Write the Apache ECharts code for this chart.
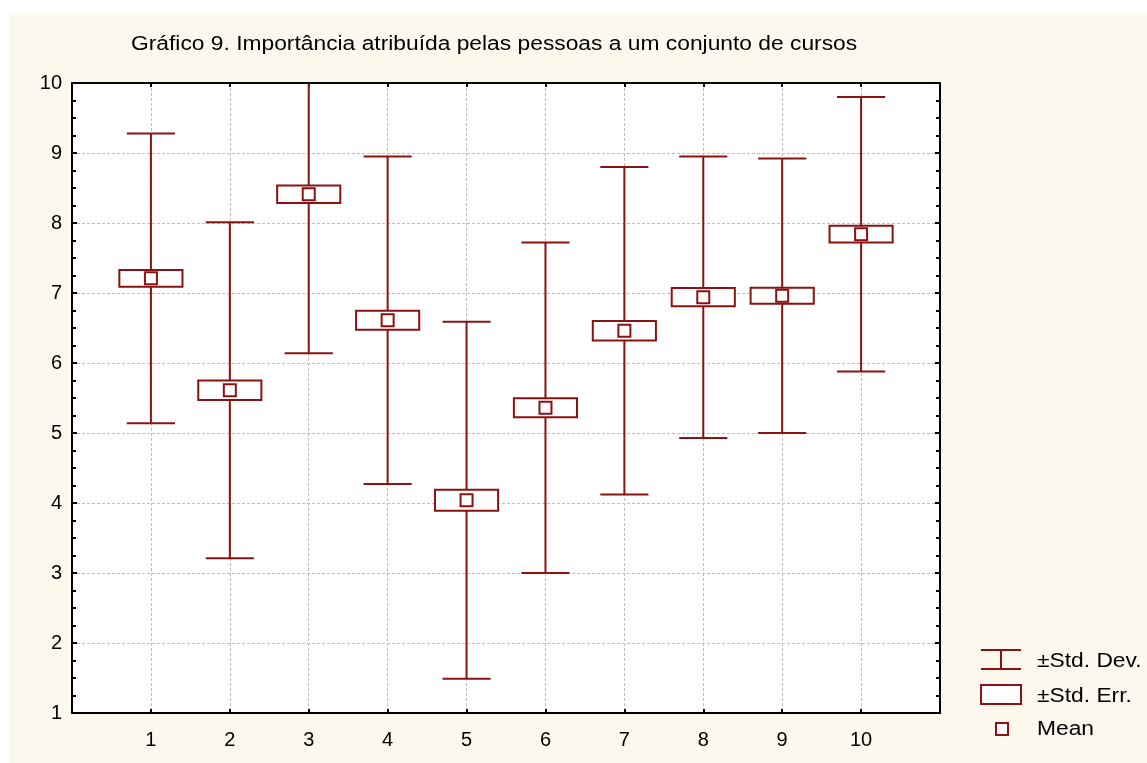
<!DOCTYPE html>
<html>
<head>
<meta charset="utf-8">
<title>Gráfico 9</title>
<script src="https://cdn.jsdelivr.net/npm/echarts@6/dist/echarts.min.js"></script>
<style>
  html, body { margin: 0; padding: 0; background: #ffffff; }
  #chart { position: absolute; left: 9px; top: 13px; width: 1138px; height: 750px; }
</style>
</head>
<body>
<div id="chart"></div>
<script>
// Courses (x positions), mean score, standard error and standard deviation per course
const courses = [1, 2, 3, 4, 5, 6, 7, 8, 9, 10];
const means   = [7.21, 5.61, 8.41, 6.61, 4.04, 5.36, 6.46, 6.94, 6.96, 7.84];
const stdErr  = [0.12, 0.14, 0.125, 0.135, 0.15, 0.135, 0.14, 0.13, 0.115, 0.12];
const stdDev  = [2.07, 2.40, 2.27, 2.34, 2.55, 2.36, 2.34, 2.01, 1.96, 1.96];
const yTicks  = [1, 2, 3, 4, 5, 6, 7, 8, 9, 10];

const title = 'Gráfico 9. Importância atribuída pelas pessoas a um conjunto de cursos';
const legendLabels = ['±Std. Dev.', '±Std. Err.', 'Mean'];

const RED = '#8b1212';
const FONT = 'Liberation Sans, Arial, sans-serif';
const Y_MIN = yTicks[0], Y_MAX = yTicks[yTicks.length - 1];
// slightly wide lettering used for the title and legend text
const WIDE = 1.14;

const data = courses.map((c, i) => [c, means[i], stdErr[i], stdDev[i]]);

function renderItem(params, api) {
  const x = api.value(0), m = api.value(1), se = api.value(2), sd = api.value(3);
  const hiV = m + sd, loV = m - sd;
  const hi = api.coord([x, Math.min(hiV, Y_MAX)]);
  const lo = api.coord([x, Math.max(loV, Y_MIN)]);
  const c = api.coord([x, m]);
  const bTop = api.coord([x, m + se]);
  const bBot = api.coord([x, m - se]);
  const capHalf = api.size([0.305, 0])[0];
  const boxHalf = api.size([0.4, 0])[0];
  const lineStyle = { stroke: RED, lineWidth: 2, fill: null };
  const children = [
    { type: 'line', shape: { x1: hi[0], y1: hi[1], x2: lo[0], y2: lo[1] }, style: lineStyle }
  ];
  if (hiV <= Y_MAX) {
    children.push({ type: 'line', shape: { x1: hi[0] - capHalf, y1: hi[1], x2: hi[0] + capHalf, y2: hi[1] }, style: lineStyle });
  }
  if (loV >= Y_MIN) {
    children.push({ type: 'line', shape: { x1: lo[0] - capHalf, y1: lo[1], x2: lo[0] + capHalf, y2: lo[1] }, style: lineStyle });
  }
  children.push({
    type: 'rect',
    shape: { x: c[0] - boxHalf, y: bTop[1], width: boxHalf * 2, height: bBot[1] - bTop[1] },
    style: { stroke: RED, lineWidth: 2, fill: '#ffffff' }
  });
  children.push({
    type: 'rect',
    shape: { x: c[0] - 6, y: c[1] - 6, width: 12, height: 12 },
    style: { stroke: RED, lineWidth: 2, fill: '#ffffff' }
  });
  return { type: 'group', children: children };
}

const gridLine = { show: true, lineStyle: { color: '#bdbdbd', width: 1, type: [3, 2] } };
const axisLine = { show: true, onZero: false, lineStyle: { color: '#000000', width: 2 } };
const textStyle = { fill: '#000', font: '20px ' + FONT, textVerticalAlign: 'middle' };

const chart = echarts.init(document.getElementById('chart'), null, { renderer: 'canvas' });
chart.setOption({
  backgroundColor: '#fdf8ed',
  animation: false,
  textStyle: { fontFamily: FONT },
  grid: { left: 63, top: 70, right: 207, bottom: 50, show: true, backgroundColor: '#ffffff', borderWidth: 0 },
  xAxis: [
    {
      type: 'value', min: 0, max: 11, interval: 1, position: 'bottom',
      axisLine: axisLine,
      axisTick: { show: true, inside: true, length: 4, lineStyle: { color: '#000', width: 2 } },
      axisLabel: {
        margin: 17, fontSize: 20, color: '#000', fontFamily: FONT,
        formatter: v => (courses.indexOf(v) >= 0 ? String(v) : '')
      },
      splitLine: gridLine
    },
    {
      type: 'value', min: 0, max: 11, interval: 1, position: 'top',
      axisLine: axisLine,
      axisTick: { show: true, inside: true, length: 4, lineStyle: { color: '#000', width: 2 } },
      axisLabel: { show: false },
      splitLine: { show: false }
    }
  ],
  yAxis: [
    {
      type: 'value', min: Y_MIN, max: Y_MAX, interval: 1, position: 'left',
      axisLine: axisLine,
      axisTick: { show: true, inside: true, length: 5, lineStyle: { color: '#000', width: 2 } },
      minorTick: { show: true, splitNumber: 4, length: 4, lineStyle: { color: '#000', width: 2 } },
      axisLabel: { margin: 10, fontSize: 20, color: '#000', fontFamily: FONT },
      splitLine: gridLine
    },
    {
      type: 'value', min: Y_MIN, max: Y_MAX, interval: 1, position: 'right',
      axisLine: axisLine,
      axisTick: { show: true, inside: true, length: 5, lineStyle: { color: '#000', width: 2 } },
      minorTick: { show: true, splitNumber: 4, length: 4, lineStyle: { color: '#000', width: 2 } },
      axisLabel: { show: false },
      splitLine: { show: false }
    }
  ],
  series: [{
    type: 'custom',
    xAxisIndex: 0, yAxisIndex: 0,
    renderItem: renderItem,
    encode: { x: 0, y: 1 },
    data: data,
    z: 10
  }],
  graphic: [
    // chart title
    { type: 'text', x: 122, y: 31, scaleX: WIDE, style: Object.assign({ text: title }, textStyle) },
    // legend: standard deviation whisker
    { type: 'line', shape: { x1: 972, y1: 637, x2: 1012, y2: 637 }, style: { stroke: RED, lineWidth: 2 } },
    { type: 'line', shape: { x1: 972, y1: 656, x2: 1012, y2: 656 }, style: { stroke: RED, lineWidth: 2 } },
    { type: 'line', shape: { x1: 992, y1: 637, x2: 992, y2: 656 }, style: { stroke: RED, lineWidth: 2 } },
    { type: 'text', x: 1028, y: 648, scaleX: WIDE, style: Object.assign({ text: legendLabels[0] }, textStyle) },
    // legend: standard error box
    { type: 'rect', shape: { x: 972, y: 672, width: 40, height: 19 }, style: { stroke: RED, lineWidth: 2, fill: '#ffffff' } },
    { type: 'text', x: 1028, y: 683, scaleX: WIDE, style: Object.assign({ text: legendLabels[1] }, textStyle) },
    // legend: mean marker
    { type: 'rect', shape: { x: 987, y: 710, width: 12, height: 12 }, style: { stroke: RED, lineWidth: 2, fill: '#ffffff' } },
    { type: 'text', x: 1028, y: 716, scaleX: WIDE, style: Object.assign({ text: legendLabels[2] }, textStyle) }
  ]
});
</script>
</body>
</html>
